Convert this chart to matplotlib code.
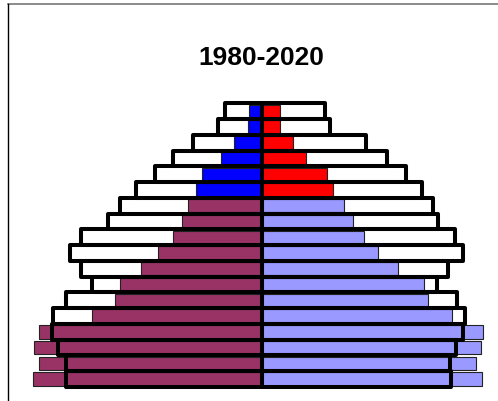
import matplotlib
matplotlib.use("Agg")
import matplotlib.pyplot as plt
from matplotlib.lines import Line2D

# Grupos de edad (de abajo hacia arriba)
edades = ["0-4", "5-9", "10-14", "15-19", "20-24", "25-29", "30-34", "35-39",
          "40-44", "45-49", "50-54", "55-59", "60-64", "65-69", "70-74",
          "75-79", "80-84", "85+"]

# Poblacion 1980 (barras rellenas)
hombres_1980 = [22.8, 22.2, 22.7, 22.2, 16.9, 14.6, 14.1, 12.1, 10.3, 8.9,
                8.0, 7.4, 6.6, 6.0, 4.1, 2.8, 1.4, 1.3]
mujeres_1980 = [22.0, 21.4, 21.9, 22.1, 19.0, 16.6, 16.2, 13.6, 11.6, 10.2,
                9.1, 8.2, 7.1, 6.5, 4.4, 3.1, 1.8, 1.8]

# Poblacion 2020 (contorno negro)
hombres_2020 = [19.5, 19.5, 20.3, 20.9, 20.8, 19.5, 16.9, 18.0, 19.1, 18.0,
                15.3, 14.1, 12.6, 10.7, 8.9, 6.9, 4.4, 3.7]
mujeres_2020 = [18.9, 18.8, 19.4, 20.1, 20.3, 19.5, 17.5, 18.6, 20.1, 19.3,
                17.6, 17.1, 16.0, 14.4, 12.5, 10.4, 6.8, 6.3]

# A partir de este indice (60-64) cambian los colores
inicio_mayores = 12

fig = plt.figure(figsize=(4.98, 4.02), dpi=100)
ax = fig.add_axes([0, 0, 1, 1])

y = list(range(len(edades)))
col_h = ["#0000FF" if i >= inicio_mayores else "#993366" for i in y]
col_m = ["#FF0000" if i >= inicio_mayores else "#9999FF" for i in y]

# 1980
ax.barh(y, [-v for v in hombres_1980], height=0.85, color=col_h,
        edgecolor="#222222", linewidth=0.8, zorder=2)
ax.barh(y, mujeres_1980, height=0.85, color=col_m,
        edgecolor="#222222", linewidth=0.8, zorder=2)

# 2020 (solo contorno)
for vals, signo in [(hombres_2020, -1), (mujeres_2020, 1)]:
    barras = ax.barh(y, [signo * v for v in vals], height=1.0, fill=False,
                     edgecolor="black", linewidth=2.9, zorder=3)
    for b in barras:
        b.set_joinstyle("round")

ax.set_xlim(-26.15, 23.65)
ax.set_ylim(-1.39, 24.12)
ax.axis("off")

fig.text(0.525, 0.855, "1980-2020", ha="center", va="center",
         fontsize=19, fontweight="bold", family="Liberation Sans")

# marco recortado
fig.add_artist(Line2D([8 / 498, 1], [1 - 5 / 402] * 2, color="#777777",
                      linewidth=1.2, transform=fig.transFigure))
fig.add_artist(Line2D([8 / 498] * 2, [0, 1 - 5 / 402], color="black",
                      linewidth=1.0, transform=fig.transFigure))

fig.savefig("out.png", dpi=100)
